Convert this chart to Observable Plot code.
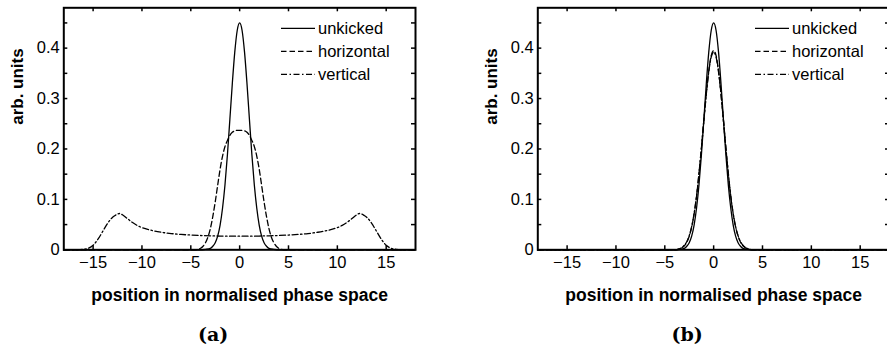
<!DOCTYPE html>
<html>
<head>
<meta charset="utf-8">
<script src="https://cdn.jsdelivr.net/npm/d3@7"></script>
<script src="https://cdn.jsdelivr.net/npm/@observablehq/plot@0.6"></script>
<style>
  html, body { margin: 0; padding: 0; background: #fff; }
  #fig { position: relative; width: 887px; height: 348px; overflow: hidden; background: #fff; }
  #fig svg { position: absolute; top: 0; }
</style>
</head>
<body>
<div id="fig"></div>
<script>
// ---- data: beam profiles in normalised phase space ----
const seriesNames = ["unkicked", "horizontal", "vertical"];
const xTicks = [-15, -10, -5, 0, 5, 10, 15];
const yLabelTicks = [0, 0.1, 0.2, 0.3, 0.4];
const yMinorTicks = [0, 0.05, 0.1, 0.15, 0.2, 0.25, 0.3, 0.35, 0.4, 0.45];

// unkicked profile (same in both panels)
const xUnkicked = [-18, -4, -3.5, -3, -2.75, -2.5, -2.25, -2, -1.75, -1.5, -1.25, -1, -0.75, -0.5, -0.25,
  0, 0.25, 0.5, 0.75, 1, 1.25, 1.5, 1.75, 2, 2.25, 2.5, 2.75, 3, 3.5, 4, 18];
const unkicked = [0, 0, 0.001, 0.003, 0.007, 0.014, 0.027, 0.049, 0.083, 0.129, 0.189, 0.259, 0.330, 0.392, 0.435,
  0.450, 0.435, 0.392, 0.330, 0.259, 0.189, 0.129, 0.083, 0.049, 0.027, 0.014, 0.007, 0.003, 0.001, 0, 0];

// (a) horizontal kick
const xHorizontalA = [-18, -4.5, -4.25, -4, -3.75, -3.5, -3.25, -3, -2.75, -2.5, -2.25, -2, -1.75, -1.5, -1.25, -1, -0.75, -0.5, -0.25,
  0, 0.25, 0.5, 0.75, 1, 1.25, 1.5, 1.75, 2, 2.25, 2.5, 2.75, 3, 3.25, 3.5, 3.75, 4, 4.25, 4.5, 18];
const horizontalA = [0, 0, 0.001, 0.003, 0.007, 0.014, 0.025, 0.042, 0.066, 0.095, 0.128, 0.160, 0.186, 0.205, 0.217, 0.227, 0.233, 0.236, 0.237,
  0.237, 0.237, 0.236, 0.233, 0.227, 0.217, 0.205, 0.186, 0.160, 0.128, 0.095, 0.066, 0.042, 0.025, 0.014, 0.007, 0.003, 0.001, 0, 0];

// (a) vertical kick
const xVerticalA = [-18, -16.5, -16, -15.5, -15, -14.5, -14, -13.5, -13, -12.75, -12.5, -12.25, -12, -11.5, -11, -10.5, -10,
  -9, -8, -7, -6, -5, -4, -3, -2, -1, 0, 1, 2, 3, 4, 5, 6, 7, 8, 9,
  10, 10.5, 11, 11.5, 12, 12.25, 12.5, 12.75, 13, 13.5, 14, 14.5, 15, 15.5, 16, 16.5, 18];
const verticalA = [0, 0, 0.001, 0.003, 0.009, 0.021, 0.037, 0.053, 0.0645, 0.068, 0.071, 0.072, 0.0695, 0.062, 0.0545, 0.0485, 0.044,
  0.0385, 0.0348, 0.0322, 0.0305, 0.0293, 0.0284, 0.0277, 0.0273, 0.027, 0.027, 0.027, 0.0273, 0.0277, 0.0284, 0.0293, 0.0305, 0.0322, 0.0348, 0.0385,
  0.044, 0.0485, 0.0545, 0.062, 0.0695, 0.072, 0.071, 0.068, 0.0645, 0.053, 0.037, 0.021, 0.009, 0.003, 0.001, 0, 0];

// (b) kicked profiles
const xKickedB = [-18, -4, -3.5, -3.25, -3, -2.75, -2.5, -2.25, -2, -1.75, -1.5, -1.25, -1, -0.75, -0.5, -0.25,
  0, 0.25, 0.5, 0.75, 1, 1.25, 1.5, 1.75, 2, 2.25, 2.5, 2.75, 3, 3.25, 3.5, 4, 18];
const horizontalB = [0, 0, 0.002, 0.004, 0.008, 0.015, 0.027, 0.045, 0.071, 0.106, 0.151, 0.202, 0.257, 0.310, 0.355, 0.385,
  0.395, 0.385, 0.355, 0.310, 0.257, 0.202, 0.151, 0.106, 0.071, 0.045, 0.027, 0.015, 0.008, 0.004, 0.002, 0, 0];
const verticalB = [0, 0, 0.002, 0.0045, 0.009, 0.016, 0.028, 0.046, 0.072, 0.107, 0.152, 0.203, 0.257, 0.309, 0.353, 0.382,
  0.392, 0.382, 0.353, 0.309, 0.257, 0.203, 0.152, 0.107, 0.072, 0.046, 0.028, 0.016, 0.009, 0.0045, 0.002, 0, 0];

// ---- styling ----
const dashes = {unkicked: null, horizontal: "5.5,3", vertical: "6,2.5,1.5,2.5"};
const sans = "'Liberation Sans', Arial, Helvetica, sans-serif";
const W = 425, H = 348;
const M = {top: 7.3, right: 10, bottom: 98.7, left: 63.3};
const plotW = W - M.left - M.right;
const plotH = H - M.top - M.bottom;
const tickLen = 4;

// legend drawn in the upper-right corner of the frame
function legend(names) {
  return (index, scales, values, dims) => {
    const g = d3.create("svg:g");
    const right = dims.width - dims.marginRight;
    names.forEach((name, i) => {
      const y = dims.marginTop + 21 + i * 23;
      const line = g.append("line")
        .attr("x1", right - 134).attr("x2", right - 100)
        .attr("y1", y).attr("y2", y)
        .attr("stroke", "black").attr("stroke-width", 1.3);
      if (dashes[name]) line.attr("stroke-dasharray", dashes[name]);
      g.append("text")
        .attr("x", right - 97).attr("y", y).attr("dy", "0.35em")
        .attr("text-anchor", "start")
        .attr("font-family", sans)
        .attr("fill", "black").attr("font-size", 16.5)
        .text(name);
    });
    return g.node();
  };
}

function panel(curves, tag, left) {
  const svg = Plot.plot({
    width: W, height: H,
    marginTop: M.top, marginRight: M.right, marginBottom: M.bottom, marginLeft: M.left,
    x: {domain: [-18, 18]},
    y: {domain: [0, 0.48]},
    style: {fontFamily: sans, fontSize: "16.5px", color: "black", background: "white", overflow: "visible"},
    marks: [
      ...curves.map(c => Plot.line(c.x, {
        x: c.x, y: c.y, curve: "monotone-x",
        stroke: "black", strokeWidth: 1.3,
        strokeDasharray: dashes[c.name] || undefined
      })),
      Plot.frame({stroke: "black", strokeWidth: 2}),
      // inward ticks on all four sides
      Plot.tickX(xTicks, {x: d => d, insetTop: plotH - tickLen, stroke: "black", strokeWidth: 1.5}),
      Plot.tickX(xTicks, {x: d => d, insetBottom: plotH - tickLen, stroke: "black", strokeWidth: 1.5}),
      Plot.tickY(yMinorTicks, {y: d => d, insetRight: plotW - tickLen, stroke: "black", strokeWidth: 1.5}),
      Plot.tickY(yMinorTicks, {y: d => d, insetLeft: plotW - tickLen, stroke: "black", strokeWidth: 1.5}),
      Plot.axisX({ticks: xTicks, tickSize: 0, tickPadding: 6, label: null}),
      Plot.axisY({ticks: yLabelTicks, tickSize: 0, tickPadding: 4, label: null,
        tickFormat: d => d === 0 ? "0" : d.toFixed(1)}),
      Plot.text(["position in normalised phase space"], {
        text: d => d, frameAnchor: "bottom", lineAnchor: "bottom", dy: 50.7,
        fontWeight: "bold", fontSize: 17.5, fill: "black"
      }),
      Plot.text(["arb. units"], {
        text: d => d, frameAnchor: "left", rotate: -90, lineAnchor: "middle", dx: -45.8, dy: -4,
        fontWeight: "bold", fontSize: 17, fill: "black"
      }),
      Plot.text([tag], {
        text: d => d, frameAnchor: "bottom", lineAnchor: "bottom", dx: -26.5, dy: 90.7,
        fontFamily: "'DejaVu Serif', serif", fontWeight: "bold", fontSize: 19, fill: "black"
      }),
      legend(seriesNames)
    ]
  });
  svg.style.left = left + "px";
  document.getElementById("fig").append(svg);
}

panel([
  {name: "unkicked", x: xUnkicked, y: unkicked},
  {name: "horizontal", x: xHorizontalA, y: horizontalA},
  {name: "vertical", x: xVerticalA, y: verticalA}
], "(a)", 0);

panel([
  {name: "unkicked", x: xUnkicked, y: unkicked},
  {name: "horizontal", x: xKickedB, y: horizontalB},
  {name: "vertical", x: xKickedB, y: verticalB}
], "(b)", 473.6);
</script>
</body>
</html>
